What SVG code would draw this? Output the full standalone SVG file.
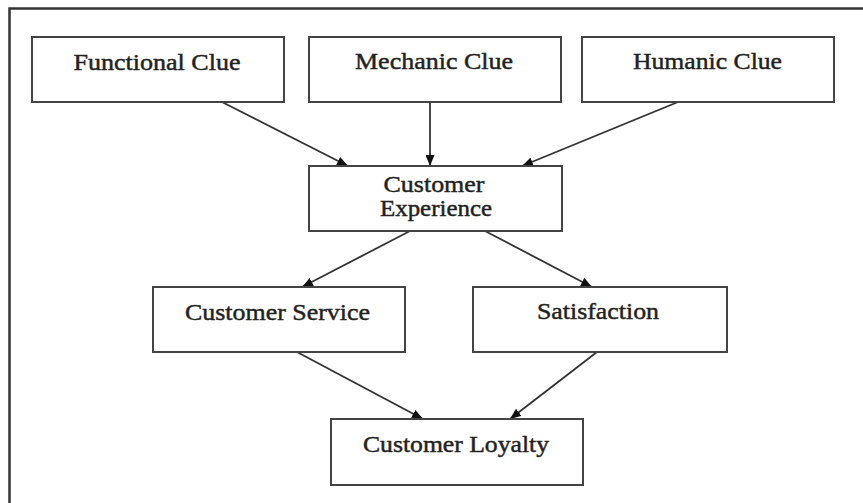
<svg xmlns="http://www.w3.org/2000/svg" width="863" height="503" viewBox="0 0 863 503">
<style>
.box{fill:#fff;stroke:#444;stroke-width:2}
.lbl{font-family:"Liberation Serif","Times New Roman",Times,serif;font-size:24px;fill:#222;stroke:#222;stroke-width:0.45;text-anchor:middle}
.edge{stroke:#333;stroke-width:1.8;fill:none;marker-end:url(#ah)}
.frame{stroke:#333;stroke-width:2.5;fill:none}
</style>
<defs>
<marker id="ah" viewBox="0 0 11 9" refX="11" refY="4.5" markerWidth="11" markerHeight="9" markerUnits="userSpaceOnUse" orient="auto">
<path d="M0,0 L11,4.5 L0,9 Z" fill="#111"/>
</marker>
</defs>
<rect width="863" height="503" fill="#fff"/>
<path class="frame" d="M9.5,503 V8.5 H863"/>
<g id="connectors">
<line class="edge" x1="222" y1="102" x2="348" y2="166"/>
<line class="edge" x1="430" y1="102" x2="430" y2="166"/>
<line class="edge" x1="678" y1="102" x2="522" y2="166"/>
<line class="edge" x1="410" y1="231" x2="302" y2="287"/>
<line class="edge" x1="485" y1="231" x2="592" y2="287"/>
<line class="edge" x1="297" y1="352" x2="423" y2="419"/>
<line class="edge" x1="597" y1="352" x2="510" y2="419"/>
</g>
<g id="functional">
<rect class="box" x="32" y="37" width="252" height="65"/>
<text class="lbl" x="157" y="70" textLength="167" lengthAdjust="spacingAndGlyphs">Functional Clue</text>
</g>
<g id="mechanic">
<rect class="box" x="309" y="37" width="252" height="65"/>
<text class="lbl" x="434" y="69" textLength="158" lengthAdjust="spacingAndGlyphs">Mechanic Clue</text>
</g>
<g id="humanic">
<rect class="box" x="582" y="37" width="252" height="65"/>
<text class="lbl" x="707.5" y="69" textLength="149" lengthAdjust="spacingAndGlyphs">Humanic Clue</text>
</g>
<g id="experience">
<rect class="box" x="309" y="166" width="253" height="65"/>
<text class="lbl" x="434" y="192" textLength="101" lengthAdjust="spacingAndGlyphs">Customer</text>
<text class="lbl" x="436" y="216" textLength="112" lengthAdjust="spacingAndGlyphs">Experience</text>
</g>
<g id="service">
<rect class="box" x="153" y="287" width="252" height="65"/>
<text class="lbl" x="277.5" y="320" textLength="185" lengthAdjust="spacingAndGlyphs">Customer Service</text>
</g>
<g id="satisfaction">
<rect class="box" x="473" y="287" width="254" height="65"/>
<text class="lbl" x="598" y="319" textLength="122" lengthAdjust="spacingAndGlyphs">Satisfaction</text>
</g>
<g id="loyalty">
<rect class="box" x="331" y="419" width="252" height="66"/>
<text class="lbl" x="456" y="452" textLength="186" lengthAdjust="spacingAndGlyphs">Customer Loyalty</text>
</g>
</svg>
